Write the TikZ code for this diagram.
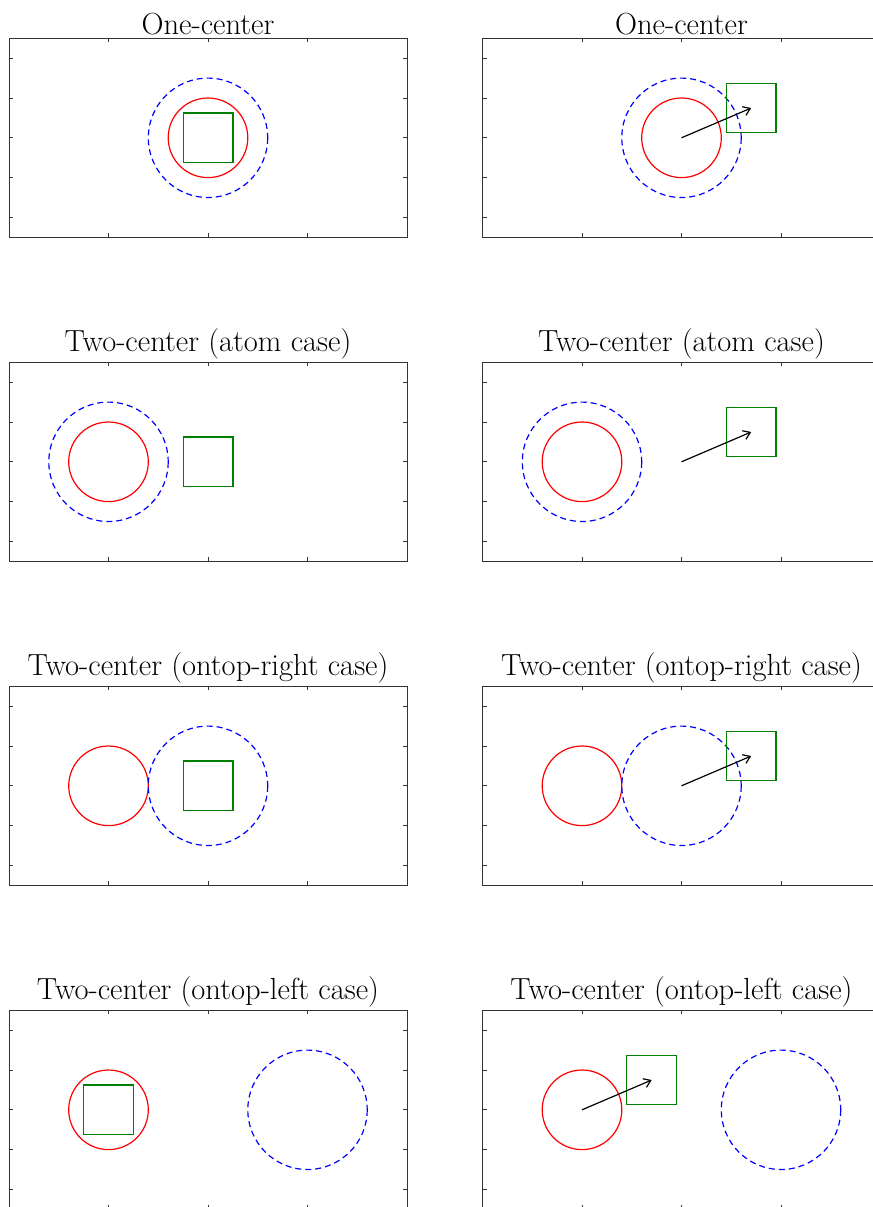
\documentclass[tikz,border=0pt]{standalone}
\usepackage{tikz}
\usetikzlibrary{arrows.meta}
\tikzset{every picture/.style={line width=0.75pt}}
\definecolor{mgreen}{RGB}{0,128,0}
\tikzset{
  frame/.style={draw=black!80, line width=0.75pt},
  inner/.style={draw=red, line width=0.9pt},
  outer/.style={draw=blue, line width=0.9pt, dash pattern=on 4.5pt off 3pt},
  cell/.style={draw=mgreen, line width=0.9pt},
  vec/.style={draw=black, line width=0.9pt, -{Straight Barb[length=5pt,width=7pt]}},
  title/.style={anchor=south, inner sep=2pt, font=\fontsize{22.9}{27}\selectfont}
}

\begin{document}
\begin{tikzpicture}[x=0.75pt,y=0.75pt,yscale=-1,xscale=1]
\useasboundingbox (0,0) rectangle (873,1207);
\clip (0,0) rectangle (873,1207);

%Axes boxes with inward ticks
\foreach \cx in {208,681.5}
  \foreach \cy in {137.8,461.8,785.8,1109.8} {
    \draw[frame] (\cx-199,\cy-99.5) rectangle (\cx+199,\cy+99.5);
    \foreach \k in {-1,0,1} {
      \draw[frame] (\cx+\k*99.5,\cy-99.5) -- ++(0,4);
      \draw[frame] (\cx+\k*99.5,\cy+99.5) -- ++(0,-4);
    }
    \foreach \k in {-2,...,2} {
      \draw[frame] (\cx-199,\cy+\k*39.8) -- ++(4,0);
      \draw[frame] (\cx+199,\cy+\k*39.8) -- ++(-4,0);
    }
  }

% Row 1: One-center
%Shape: Circle
\draw[outer] (208,137.8) circle (59.7);
%Shape: Circle
\draw[inner] (208,137.8) circle (39.8);
%Shape: Square
\draw[cell] (183.1,112.9) rectangle (232.9,162.7);
%Shape: Circle
\draw[outer] (681.5,137.8) circle (59.7);
%Shape: Circle
\draw[inner] (681.5,137.8) circle (39.8);
%Shape: Square
\draw[cell] (726.3,83.1) rectangle (776,132.8);
%Straight Lines
\coordinate (o1) at (681.5,137.8);
\coordinate (p1) at (751.2,108);
\draw[vec] (o1) -- (p1);

% Row 2: Two-center (atom case)
%Shape: Circle
\draw[outer] (108.5,461.8) circle (59.7);
%Shape: Circle
\draw[inner] (108.5,461.8) circle (39.8);
%Shape: Square
\draw[cell] (183.1,436.9) rectangle (232.9,486.7);
%Shape: Circle
\draw[outer] (582,461.8) circle (59.7);
%Shape: Circle
\draw[inner] (582,461.8) circle (39.8);
%Shape: Square
\draw[cell] (726.3,407.1) rectangle (776,456.8);
%Straight Lines
\coordinate (o2) at (681.5,461.8);
\coordinate (p2) at (751.2,432);
\draw[vec] (o2) -- (p2);

% Row 3: Two-center (ontop-right case)
%Shape: Circle
\draw[inner] (108.5,785.8) circle (39.8);
%Shape: Circle
\draw[outer] (208,785.8) circle (59.7);
%Shape: Square
\draw[cell] (183.1,760.9) rectangle (232.9,810.7);
%Shape: Circle
\draw[inner] (582,785.8) circle (39.8);
%Shape: Circle
\draw[outer] (681.5,785.8) circle (59.7);
%Shape: Square
\draw[cell] (726.3,731.1) rectangle (776,780.8);
%Straight Lines
\coordinate (o3) at (681.5,785.8);
\coordinate (p3) at (751.2,756);
\draw[vec] (o3) -- (p3);

% Row 4: Two-center (ontop-left case)
%Shape: Circle
\draw[inner] (108.5,1109.8) circle (39.8);
%Shape: Square
\draw[cell] (83.6,1084.9) rectangle (133.4,1134.7);
%Shape: Circle
\draw[outer] (307.5,1109.8) circle (59.7);
%Shape: Circle
\draw[inner] (582,1109.8) circle (39.8);
%Shape: Square
\draw[cell] (626.8,1055.1) rectangle (676.5,1104.8);
%Shape: Circle
\draw[outer] (781,1109.8) circle (59.7);
%Straight Lines
\coordinate (o4) at (582,1109.8);
\coordinate (p4) at (651.7,1080);
\draw[vec] (o4) -- (p4);

% Text Node
\node[title] (t1a) at (208,38.3) {One-center};
\node[title] (t1b) at (681.5,38.3) {One-center};
% Text Node
\node[title] (t2a) at (208,362.3) {Two-center (atom case)};
\node[title] (t2b) at (681.5,362.3) {Two-center (atom case)};
% Text Node
\node[title] (t3a) at (208,686.3) {Two-center (ontop-right case)};
\node[title] (t3b) at (681.5,686.3) {Two-center (ontop-right case)};
% Text Node
\node[title] (t4a) at (208,1010.3) {Two-center (ontop-left case)};
\node[title] (t4b) at (681.5,1010.3) {Two-center (ontop-left case)};

\end{tikzpicture}
\end{document}
